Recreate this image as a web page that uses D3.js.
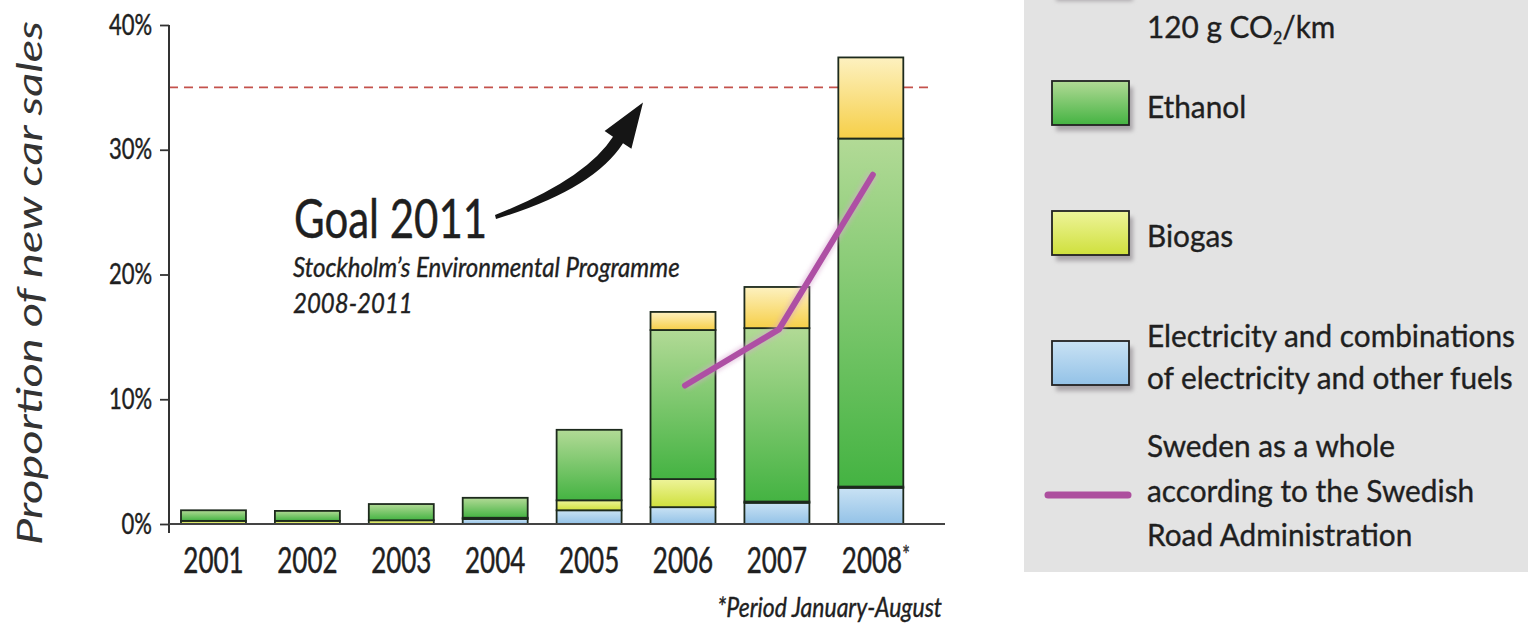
<!DOCTYPE html>
<html>
<head>
<meta charset="utf-8">
<script src="https://cdn.jsdelivr.net/npm/d3@7"></script>
<style>
  html, body { margin: 0; padding: 0; background: #fff; overflow: hidden; }
  svg { display: block; }
  text { font-family: Lato, "Open Sans", sans-serif; fill: #1f1f1f; stroke: #1f1f1f; stroke-width: 0.35px; }
</style>
</head>
<body>
<svg id="chart" width="1536" height="623"></svg>
<script>
// ---- data: share of new car sales (%) in Stockholm by fuel type ----
const years        = ["2001", "2002", "2003", "2004", "2005", "2006", "2007", "2008"];
const electricity  = [0,    0,    0,    0.4,  1.1,  1.35, 1.7,  2.9];
const biogas       = [0.25, 0.25, 0.3,  0.1,  0.8,  2.25, 0.1,  0.1];
const ethanol      = [0.85, 0.8,  1.3,  1.6,  5.65, 11.95, 13.9, 27.9];
const lowEmission  = [0,    0,    0,    0,    0,    1.45, 3.3,  6.5];

// Sweden as a whole (line)
const swedenYears  = ["2006", "2007", "2008"];
const swedenShare  = [11.1, 15.6, 28.0];

const goalShare    = 35;
const yTicks       = [0, 10, 20, 30, 40];
const seriesKeys   = ["electricity", "biogas", "ethanol", "lowEmission"];

// ---- layout ----
const svg = d3.select("#chart");
const axisX = 169, axisRight = 945;

const x = d3.scaleBand().domain(years).range([171.6, 912.7]).paddingInner(0.308).paddingOuter(0.1);
const y = d3.scaleLinear().domain([0, 40]).range([524, 25]);

const rows = years.map((yr, i) => ({
  year: yr,
  electricity: electricity[i],
  biogas: biogas[i],
  ethanol: ethanol[i],
  lowEmission: lowEmission[i]
}));
const stacked = d3.stack().keys(seriesKeys)(rows);

// ---- gradients & filters ----
const defs = svg.append("defs");
const grads = {
  electricity: ["#c9e2f4", "#93c2e7"],
  biogas:      ["#eef49a", "#cfe03c"],
  ethanol:     ["#b2da96", "#44b342"],
  lowEmission: ["#fdf1c0", "#f6cf48"]
};
Object.entries(grads).forEach(([k, [c0, c1]]) => {
  const g = defs.append("linearGradient").attr("id", "g-" + k)
    .attr("x1", 0).attr("y1", 0).attr("x2", 0).attr("y2", 1);
  g.append("stop").attr("offset", "0%").attr("stop-color", c0);
  g.append("stop").attr("offset", "100%").attr("stop-color", c1);
});
const blur = defs.append("filter").attr("id", "soft").attr("x", "-20%").attr("y", "-20%").attr("width", "140%").attr("height", "160%");
blur.append("feGaussianBlur").attr("stdDeviation", 2.2);
const halo = defs.append("filter").attr("id", "halo").attr("x", "-10%").attr("y", "-200%").attr("width", "120%").attr("height", "500%");
halo.append("feGaussianBlur").attr("stdDeviation", 3);

// text helper with scaling
function txt(parent, str, px, py, o = {}) {
  const t = parent.append("text")
    .attr("transform", `translate(${px},${py})${o.rotate ? ` rotate(${o.rotate})` : ""} scale(${o.sx || 1},${o.sy || 1})`)
    .attr("text-anchor", o.anchor || "start")
    .style("font-size", o.size + "px")
    .style("font-style", o.italic ? "italic" : "normal");
  if (str !== null) t.text(str);
  return t;
}

// ---- goal line (35 %) ----
svg.append("line")
  .attr("x1", axisX).attr("x2", 933).attr("y1", y(goalShare)).attr("y2", y(goalShare))
  .attr("stroke", "#f4b7b7").attr("stroke-width", 6).attr("opacity", 0.35).attr("filter", "url(#halo)");
svg.append("line")
  .attr("x1", axisX).attr("x2", 933).attr("y1", y(goalShare)).attr("y2", y(goalShare))
  .attr("stroke", "#c4524c").attr("stroke-width", 1.6).attr("stroke-dasharray", "9,6");

// ---- stacked bars ----
const layers = svg.append("g").selectAll("g").data(stacked).join("g")
  .attr("fill", d => `url(#g-${d.key})`);
layers.selectAll("rect").data(d => d.filter(s => s[1] - s[0] > 0)).join("rect")
  .attr("x", d => x(d.data.year))
  .attr("width", x.bandwidth())
  .attr("y", d => y(d[1]))
  .attr("height", d => y(d[0]) - y(d[1]))
  .attr("stroke", "#1d2a1d").attr("stroke-width", 1.8);

// ---- Sweden line ----
const swedenPts = swedenYears.map((yr, i) => ({ year: yr, v: swedenShare[i] }));
const line = d3.line().x(d => x(d.year) + x.bandwidth() / 2 + 2).y(d => y(d.v));
svg.append("path").datum(swedenPts).attr("d", line)
  .attr("fill", "none").attr("stroke", "#d7a6cf").attr("stroke-width", 10).attr("opacity", 0.5)
  .attr("filter", "url(#soft)");
svg.append("path").datum(swedenPts).attr("d", line)
  .attr("fill", "none").attr("stroke", "#ae4fa4").attr("stroke-width", 6)
  .attr("stroke-linecap", "round").attr("stroke-linejoin", "round");

// ---- axes ----
const yAxis = svg.append("g").attr("transform", `translate(${axisX},0)`)
  .call(d3.axisLeft(y).tickValues(yTicks).tickFormat(d => d + "%").tickSize(9).tickPadding(17));
yAxis.select(".domain").remove();
yAxis.selectAll(".tick line").attr("stroke", "#333").attr("stroke-width", 1.8);
yAxis.selectAll(".tick text")
  .attr("dy", null).attr("x", null)
  .attr("transform", "translate(-17,9) scale(1,1.28)")
  .attr("text-anchor", "end")
  .style("font-family", "Lato, sans-serif").style("font-size", "22px").attr("fill", "#222");

svg.append("line").attr("x1", axisX).attr("x2", axisX).attr("y1", y(40)).attr("y2", y(0) + 9)
  .attr("stroke", "#333").attr("stroke-width", 2);
svg.append("line").attr("x1", axisX).attr("x2", axisRight).attr("y1", y(0)).attr("y2", y(0))
  .attr("stroke", "#444").attr("stroke-width", 2);

const xAxis = svg.append("g").attr("transform", `translate(0,${y(0)})`)
  .call(d3.axisBottom(x).tickSize(0).tickFormat(d => d));
xAxis.select(".domain").remove();
xAxis.selectAll(".tick text")
  .attr("y", null).attr("dy", null)
  .attr("transform", "translate(0,49) scale(1,1.4)")
  .style("font-family", "Lato, sans-serif").style("font-size", "26px").attr("fill", "#222")
  .each(function (d) {
    if (d === "2008") {
      const t = d3.select(this).text(null);
      t.append("tspan").text("2008");
      t.append("tspan").text("*").style("font-size", "18px").attr("dy", "-0.35em").attr("fill", "#555");
      t.attr("transform", "translate(5,49) scale(1,1.4)");
    }
  });

// axis title
txt(svg, "Proportion of new car sales", 42, 283, { rotate: -90, size: 34, sx: 1.38, italic: true, anchor: "middle" })
  .attr("fill", "#333").style("stroke", "none").style("fill", "#333");

// footnote
txt(svg, "*Period January-August", 942, 617, { size: 23, sy: 1.2, italic: true, anchor: "end" });

// ---- goal annotation ----
txt(svg, "Goal 2011", 294, 238, { size: 42, sy: 1.3 });
txt(svg, "Stockholm\u2019s Environmental Programme", 293, 277, { size: 24, sy: 1.15, italic: true });
txt(svg, "2008-2011", 293, 313, { size: 24, sy: 1.15, italic: true });

// curved arrow pointing up to the goal line
const tip = [643, y(goalShare) + 15];
svg.append("path")
  .attr("d", `M495,215 Q586,179 613,136.7 L604.6,131 L${tip[0]},${tip[1]} L631.4,148.8 L623,143.3 Q593,190 496,219 Z`)
  .attr("fill", "#151515");

// ---- legend ----
const lg = svg.append("g");
lg.append("rect").attr("x", 1024).attr("y", -20).attr("width", 504).attr("height", 592).attr("fill", "#e3e3e3");

const legendFills = ["lowEmission", "ethanol", "biogas", "electricity"];
const swatchTops = [-49, 81, 211, 341];
legendFills.forEach((k, i) => {
  lg.append("rect").attr("x", 1056).attr("y", swatchTops[i] + 6).attr("width", 77).attr("height", 44)
    .attr("fill", "#a9a5a9").attr("filter", "url(#soft)");
  lg.append("rect").attr("x", 1052).attr("y", swatchTops[i]).attr("width", 77).attr("height", 44)
    .attr("fill", `url(#g-${k})`).attr("stroke", "#222").attr("stroke-width", 1.8);
});
lg.append("line").attr("x1", 1050).attr("x2", 1130).attr("y1", 498).attr("y2", 498)
  .attr("stroke", "#a9a5a9").attr("stroke-width", 8).attr("stroke-linecap", "round").attr("filter", "url(#soft)");
lg.append("line").attr("x1", 1048).attr("x2", 1128).attr("y1", 495).attr("y2", 495)
  .attr("stroke", "#ad4f9e").attr("stroke-width", 7).attr("stroke-linecap", "round");

const legendSize = 29.8, legendSy = 1.05, lx = 1147;
const co2 = txt(lg, null, lx, 38, { size: legendSize, sy: legendSy });
co2.append("tspan").text("120 g CO");
co2.append("tspan").text("2").style("font-size", "16px").attr("dy", 6);
co2.append("tspan").text("/km").attr("dy", -6);
txt(lg, "Ethanol", lx, 118, { size: legendSize, sy: legendSy });
txt(lg, "Biogas", lx, 247, { size: legendSize, sy: legendSy });
txt(lg, "Electricity and combinations", lx, 347, { size: legendSize, sy: legendSy });
txt(lg, "of electricity and other fuels", lx, 389, { size: legendSize, sy: legendSy });
txt(lg, "Sweden as a whole", lx, 457, { size: legendSize, sy: legendSy });
txt(lg, "according to the Swedish", lx, 502, { size: legendSize, sy: legendSy });
txt(lg, "Road Administration", lx, 546, { size: legendSize, sy: legendSy });
</script>
</body>
</html>
